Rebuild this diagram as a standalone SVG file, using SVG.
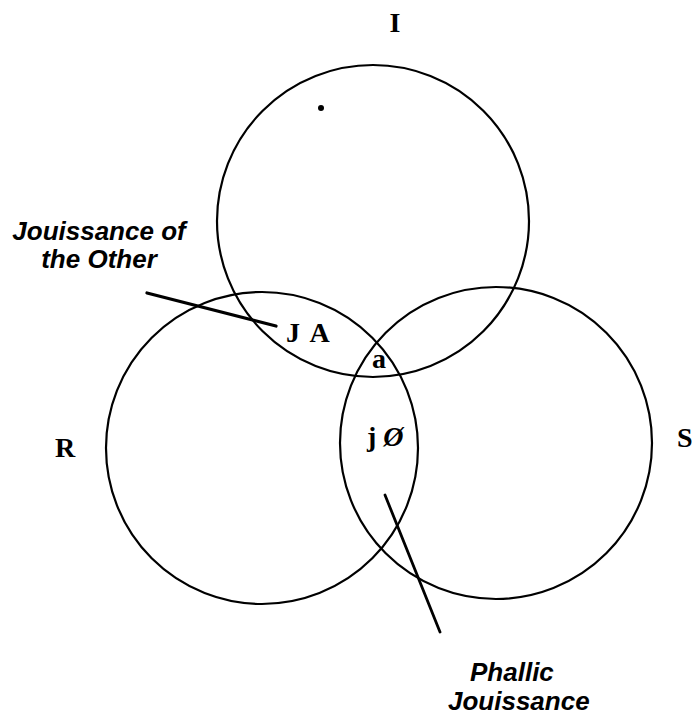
<svg xmlns="http://www.w3.org/2000/svg" width="694" height="716" viewBox="0 0 694 716">
<style>
.ring{fill:none;stroke:#000;stroke-width:2.2}
.lab{font-family:"Liberation Serif","Times New Roman",serif;font-weight:bold;font-size:28px;fill:#000}
.note{font-family:"Liberation Sans",Arial,sans-serif;font-weight:bold;font-style:italic;font-size:26px;fill:#000}
.ptr{stroke:#000;stroke-linecap:round;fill:none}
</style>
<rect width="694" height="716" fill="#fff"/>
<g id="node-I">
<circle class="ring" cx="373" cy="221" r="156"/>
<text class="lab" x="395" y="32" text-anchor="middle">I</text>
</g>
<g id="node-R">
<circle class="ring" cx="262" cy="448" r="156"/>
<text class="lab" x="55" y="457">R</text>
</g>
<g id="node-S">
<circle class="ring" cx="496" cy="443" r="156"/>
<text class="lab" x="677" y="447">S</text>
</g>
<g id="node-JA">
<text class="lab" x="286" y="342" font-size="26" letter-spacing="2">J A</text>
</g>
<g id="node-a">
<text class="lab" x="372" y="368">a</text>
</g>
<g id="node-jphi">
<text class="lab" x="367" y="446">j <tspan font-style="italic">Ø</tspan></text>
</g>
<g id="node-jouissance-other">
<text class="note" x="99" y="240" text-anchor="middle">Jouissance of</text>
<text class="note" x="99" y="268" text-anchor="middle">the Other</text>
</g>
<g id="node-phallic">
<text class="note" x="470" y="681">Phallic</text>
<text class="note" x="448" y="710">Jouissance</text>
</g>
<g id="connectors">
<line class="ptr" x1="147" y1="293" x2="276" y2="326" stroke-width="3.2"/>
<line class="ptr" x1="385" y1="495" x2="440" y2="632" stroke-width="2.8"/>
</g>
<circle cx="321" cy="108" r="3" fill="#000"/>
</svg>
